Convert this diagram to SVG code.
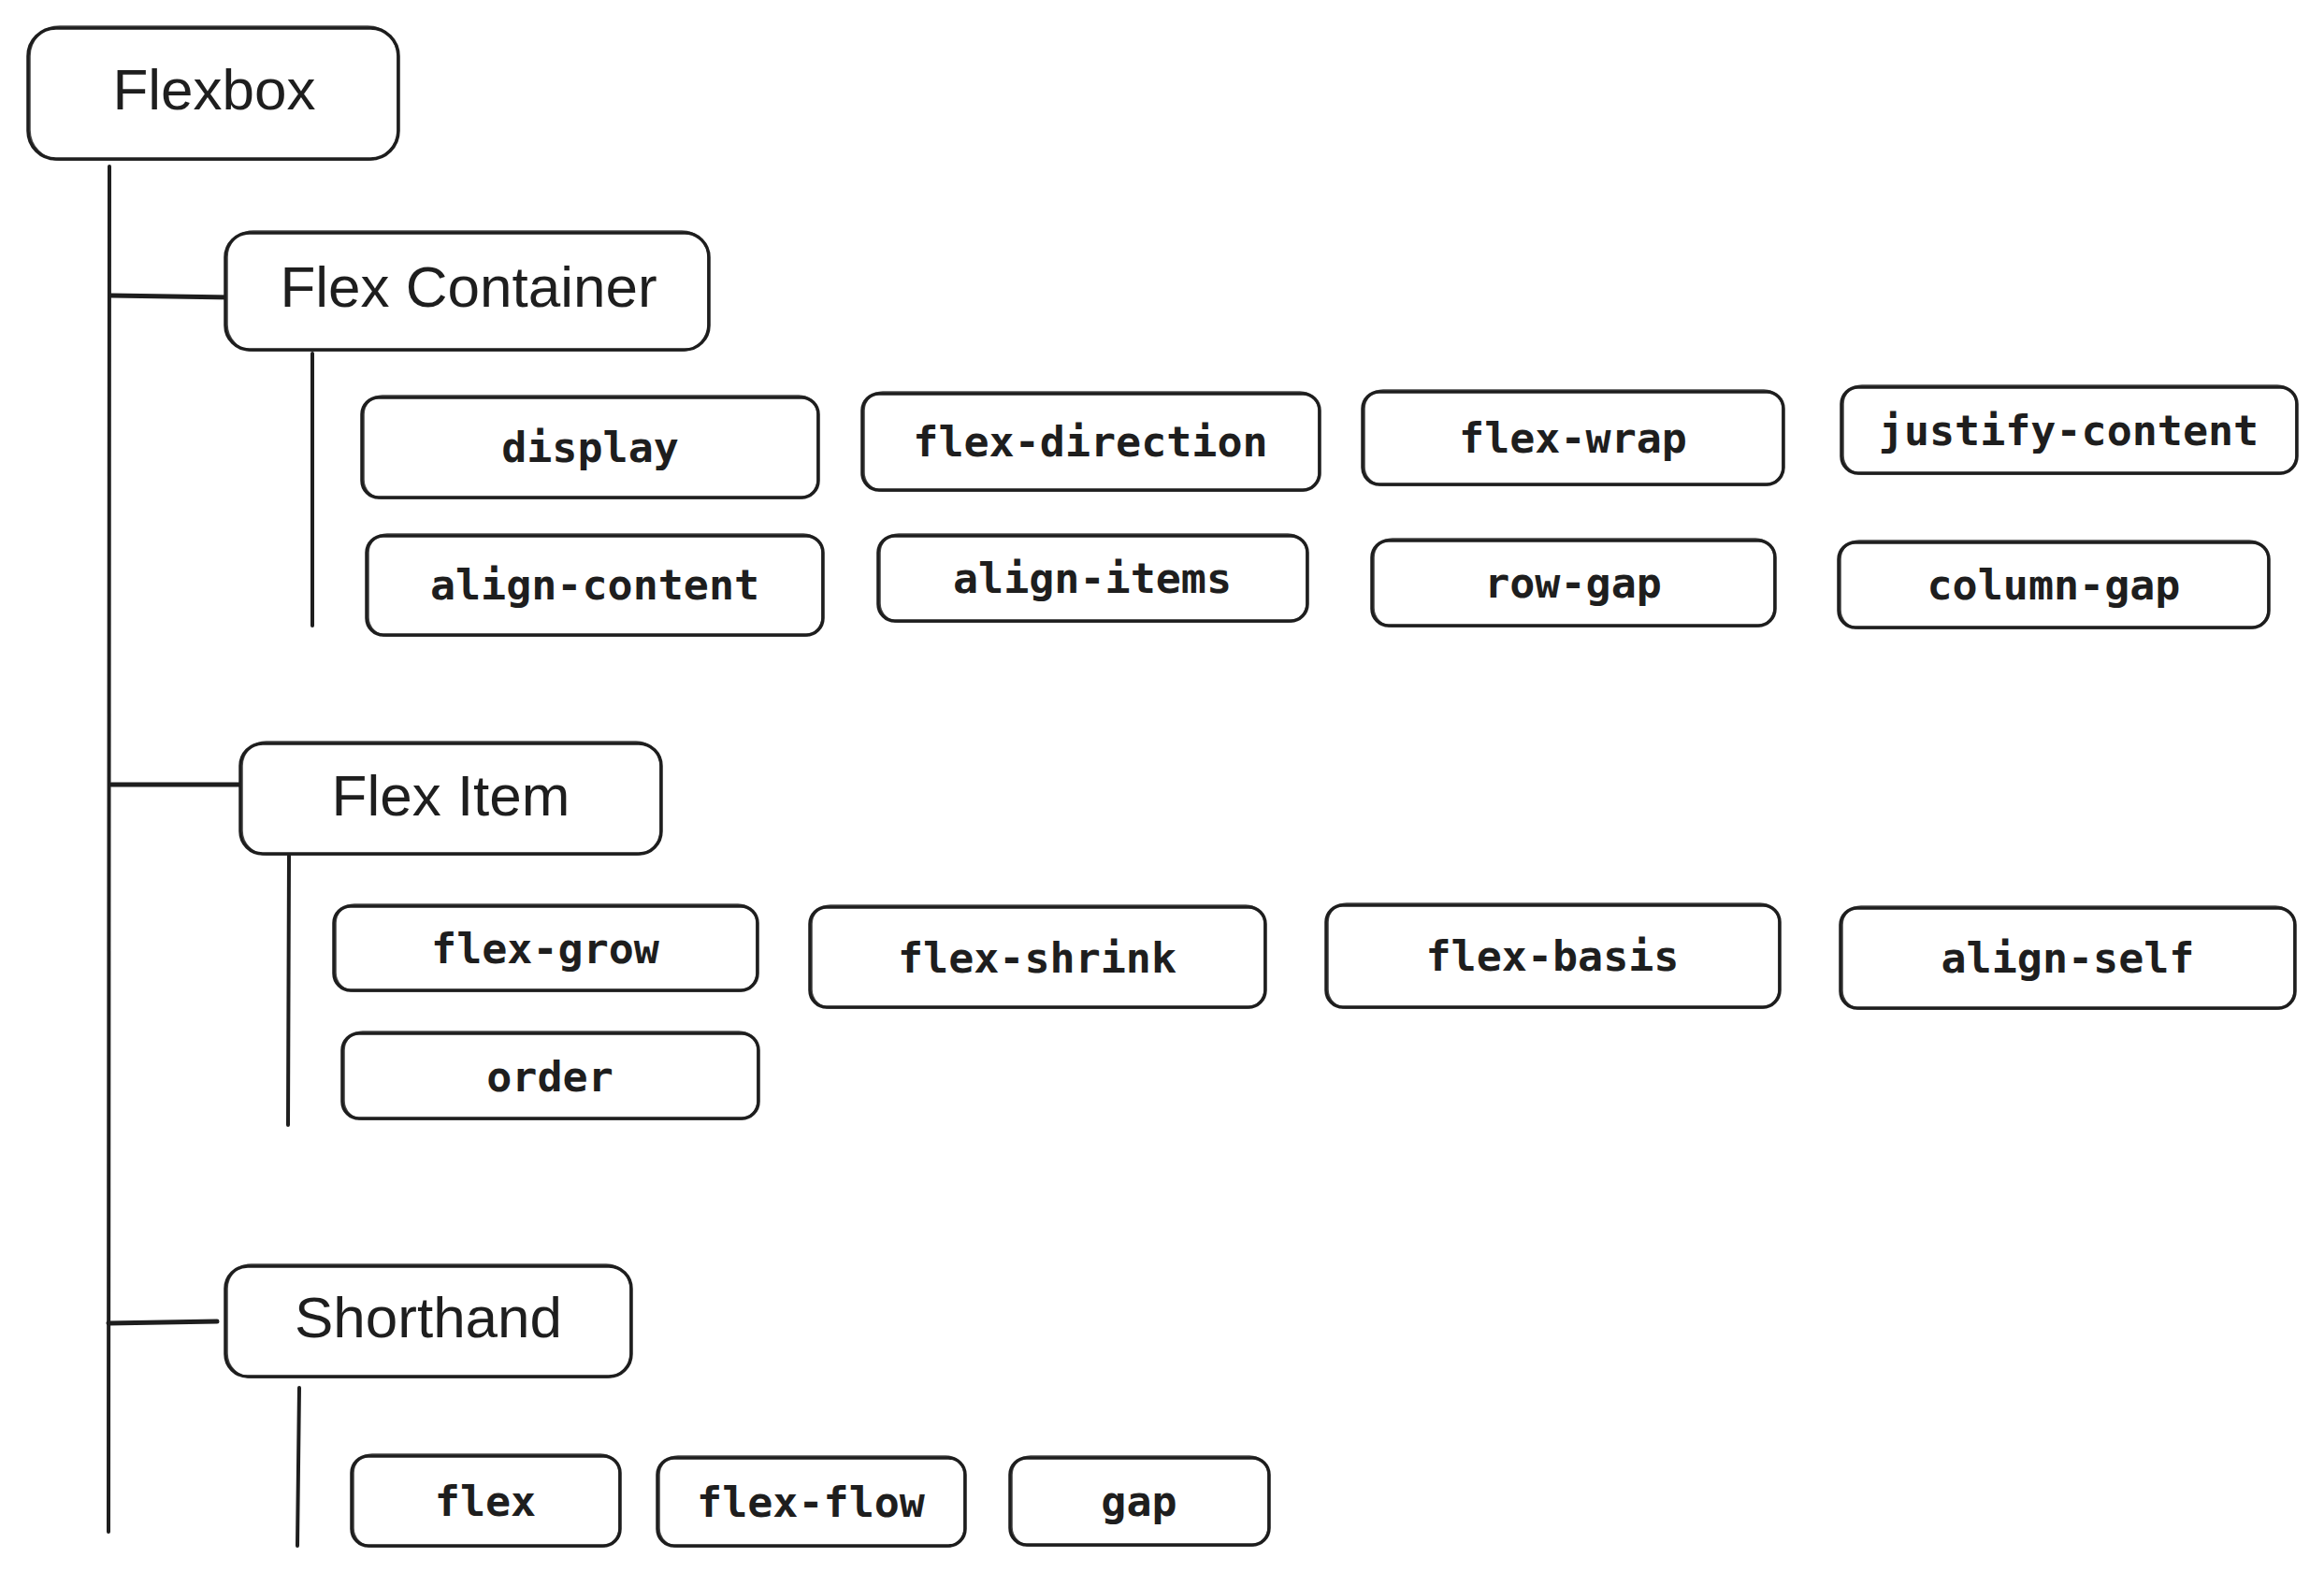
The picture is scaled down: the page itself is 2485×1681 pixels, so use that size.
<svg xmlns="http://www.w3.org/2000/svg" width="2485" height="1681" viewBox="0 0 2485 1681">
<style>
.box{fill:#ffffff;stroke:#1e1e1e;stroke-width:3.5;stroke-linejoin:round}
.box2{fill:none;stroke:#1e1e1e;stroke-width:1.6;opacity:0.8}
.head{font-family:"Liberation Sans","Noto Sans",sans-serif;font-size:62px;fill:#1e1e1e;text-anchor:middle}
.mono{font-family:"DejaVu Sans Mono","Liberation Mono",monospace;font-size:45px;font-weight:bold;fill:#1e1e1e;text-anchor:middle}
.conn line{stroke:#1e1e1e;stroke-linecap:round}
</style>
<rect width="2485" height="1681" fill="#ffffff"/>
<g id="connectors" class="conn">
<line x1="117" y1="178" x2="116" y2="1638" stroke-width="4"/>
<line x1="119" y1="316" x2="247" y2="318" stroke-width="5"/>
<line x1="334" y1="378" x2="334" y2="669" stroke-width="4"/>
<line x1="119" y1="839" x2="257" y2="839" stroke-width="5"/>
<line x1="309" y1="915" x2="308" y2="1203" stroke-width="4"/>
<line x1="116" y1="1415" x2="232" y2="1413" stroke-width="5"/>
<line x1="320" y1="1484" x2="318" y2="1653" stroke-width="4"/>
</g>
<g id="n-flexbox"><rect class="box" x="30" y="30" width="396" height="140" rx="30"/><rect class="box2" x="32" y="28" width="393" height="143" rx="32"/><text class="head" x="229" y="117">Flexbox</text></g>
<g id="n-flex-container"><rect class="box" x="241" y="249" width="517" height="125" rx="26"/><rect class="box2" x="243" y="247" width="514" height="128" rx="28"/><text class="head" x="501" y="328">Flex Container</text></g>
<g id="n-flex-item"><rect class="box" x="257" y="795" width="450" height="118" rx="24"/><rect class="box2" x="259" y="793" width="447" height="121" rx="26"/><text class="head" x="482" y="872">Flex Item</text></g>
<g id="n-shorthand"><rect class="box" x="241" y="1354" width="434" height="118" rx="24"/><rect class="box2" x="243" y="1352" width="431" height="121" rx="26"/><text class="head" x="458" y="1430">Shorthand</text></g>

<g id="n-display"><rect class="box" x="387" y="425" width="488" height="107" rx="18"/><rect class="box2" x="389" y="423" width="485" height="110" rx="20"/><text class="mono" x="631" y="494">display</text></g>
<g id="n-flex-direction"><rect class="box" x="922" y="421" width="489" height="103" rx="18"/><rect class="box2" x="924" y="419" width="486" height="106" rx="20"/><text class="mono" x="1166" y="488">flex-direction</text></g>
<g id="n-flex-wrap"><rect class="box" x="1457" y="419" width="450" height="99" rx="18"/><rect class="box2" x="1459" y="417" width="447" height="102" rx="20"/><text class="mono" x="1682" y="484">flex-wrap</text></g>
<g id="n-justify-content"><rect class="box" x="1969" y="414" width="487" height="92" rx="18"/><rect class="box2" x="1971" y="412" width="484" height="95" rx="20"/><text class="mono" x="2212" y="476">justify-content</text></g>
<g id="n-align-content"><rect class="box" x="392" y="573" width="488" height="106" rx="18"/><rect class="box2" x="394" y="571" width="485" height="109" rx="20"/><text class="mono" x="636" y="641">align-content</text></g>
<g id="n-align-items"><rect class="box" x="939" y="573" width="459" height="91" rx="18"/><rect class="box2" x="941" y="571" width="456" height="94" rx="20"/><text class="mono" x="1168" y="634">align-items</text></g>
<g id="n-row-gap"><rect class="box" x="1467" y="578" width="431" height="91" rx="18"/><rect class="box2" x="1469" y="576" width="428" height="94" rx="20"/><text class="mono" x="1682" y="639">row-gap</text></g>
<g id="n-column-gap"><rect class="box" x="1966" y="580" width="460" height="91" rx="18"/><rect class="box2" x="1968" y="578" width="457" height="94" rx="20"/><text class="mono" x="2196" y="641">column-gap</text></g>

<g id="n-flex-grow"><rect class="box" x="357" y="969" width="453" height="90" rx="18"/><rect class="box2" x="359" y="967" width="450" height="93" rx="20"/><text class="mono" x="583" y="1030">flex-grow</text></g>
<g id="n-flex-shrink"><rect class="box" x="866" y="970" width="487" height="107" rx="18"/><rect class="box2" x="868" y="968" width="484" height="110" rx="20"/><text class="mono" x="1109" y="1040">flex-shrink</text></g>
<g id="n-flex-basis"><rect class="box" x="1418" y="968" width="485" height="109" rx="18"/><rect class="box2" x="1420" y="966" width="482" height="112" rx="20"/><text class="mono" x="1660" y="1038">flex-basis</text></g>
<g id="n-align-self"><rect class="box" x="1968" y="971" width="486" height="107" rx="18"/><rect class="box2" x="1970" y="969" width="483" height="110" rx="20"/><text class="mono" x="2211" y="1040">align-self</text></g>
<g id="n-order"><rect class="box" x="366" y="1105" width="445" height="91" rx="18"/><rect class="box2" x="368" y="1103" width="442" height="94" rx="20"/><text class="mono" x="588" y="1167">order</text></g>

<g id="n-flex"><rect class="box" x="376" y="1557" width="287" height="96" rx="18"/><rect class="box2" x="378" y="1555" width="284" height="99" rx="20"/><text class="mono" x="519" y="1621">flex</text></g>
<g id="n-flex-flow"><rect class="box" x="703" y="1559" width="329" height="94" rx="18"/><rect class="box2" x="705" y="1557" width="326" height="97" rx="20"/><text class="mono" x="867" y="1622">flex-flow</text></g>
<g id="n-gap"><rect class="box" x="1080" y="1559" width="277" height="93" rx="18"/><rect class="box2" x="1082" y="1557" width="274" height="96" rx="20"/><text class="mono" x="1218" y="1621">gap</text></g>
</svg>
